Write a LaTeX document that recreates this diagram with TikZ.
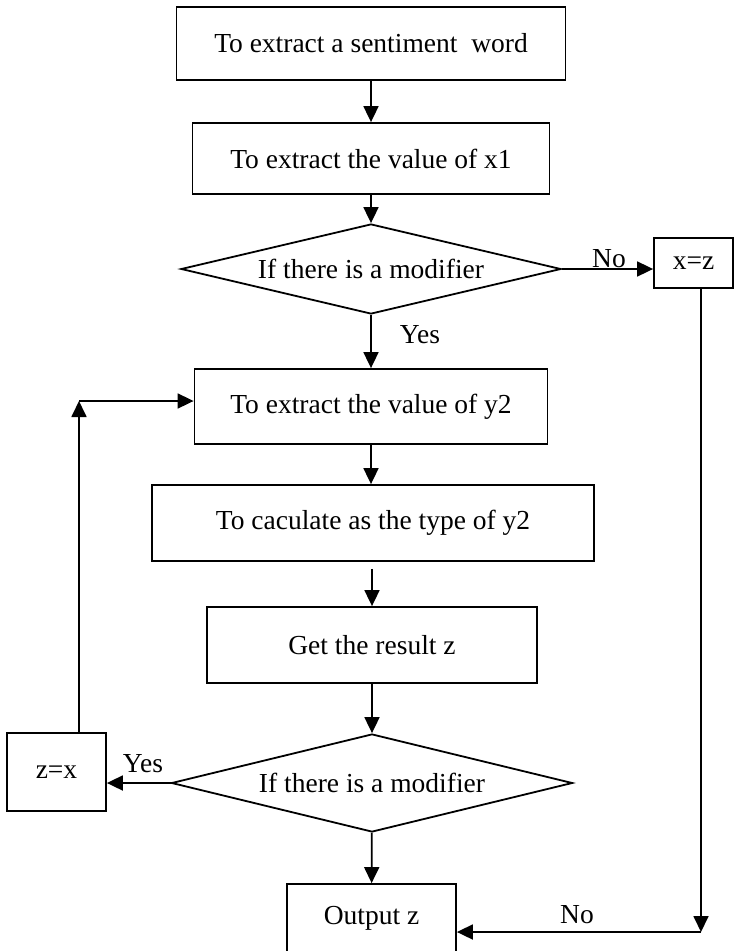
\documentclass[tikz,border=0pt]{standalone}
\usepackage{fontspec}
\setmainfont{Liberation Serif}
\usetikzlibrary{shapes.geometric,arrows.meta}
\tikzset{
  box/.style={draw,line width=1.8pt,inner sep=0pt},
  decide/.style={draw,diamond,aspect=4,line width=1.8pt,inner sep=0pt},
  flow/.style={->,line width=1.8pt},
  lbl/.style={inner sep=1pt}
}
\begin{document}
\begin{tikzpicture}[x=1pt,y=-1pt,>={Triangle[width=15pt,length=16pt]},
  every node/.style={font=\fontsize{27.5}{31}\selectfont}]
\useasboundingbox (0,0) rectangle (734,951);
\clip (0,0) rectangle (734,951);
% main column
\node[box,minimum width=389pt,minimum height=73pt] (word) at (371,43.5) {To extract a sentiment\ \ word};
\node[box,minimum width=357pt,minimum height=71pt] (xval) at (371,158.5) {To extract the value of x1};
\node[decide,minimum width=380pt,minimum height=90pt] (mod1) at (371,269) {If there is a modifier};
\node[box,minimum width=79pt,minimum height=50pt] (xz) at (693.5,263) {x=z};
\node[box,minimum width=353pt,minimum height=75pt] (yval) at (371,406.5) {To extract the value of y2};
\node[box,minimum width=442pt,minimum height=76pt] (calc) at (373,523) {To caculate as the type of y2};
\node[box,minimum width=330pt,minimum height=76pt] (res) at (372,645) {Get the result z};
\node[decide,minimum width=401pt,minimum height=98pt] (mod2) at (372,783) {If there is a modifier};
\node[box,minimum width=99pt,minimum height=78pt] (zx) at (56.5,772) {z=x};
\node[box,minimum width=169pt,minimum height=68pt] (out) at (371.5,918) {Output z};
% corners of the side lines
\coordinate (lp) at (79,401);
\coordinate (rc) at (701,932);
% arrows down the middle
\draw[flow] (word) -- (xval);
\draw[flow] (xval) -- (mod1);
\draw[flow] (mod1) -- (yval);
\draw[flow] (yval.south) -- (yval.south |- calc.north);
\draw[flow,shorten <=7pt] (calc.south -| res) -- (res);
\draw[flow] (res) -- (mod2);
\draw[flow] (mod2) -- (out);
% branches
\draw[flow] (mod1.east) -- (xz.west |- mod1.east);
\draw[flow] (mod2.west) -- (zx.east |- mod2.west);
\draw[flow] (zx.north -| lp) -- (lp);
\draw[flow] (lp) -- (lp -| yval.west);
\draw[flow] (xz.south -| rc) -- (rc);
\draw[flow] (rc) -- (out.east |- rc);
% labels
\node[lbl] (no1) at (609,259) {No};
\node[lbl] (yes1) at (420,335) {Yes};
\node[lbl] (yes2) at (143,764) {Yes};
\node[lbl] (no2) at (577,915) {No};
\end{tikzpicture}
\end{document}
